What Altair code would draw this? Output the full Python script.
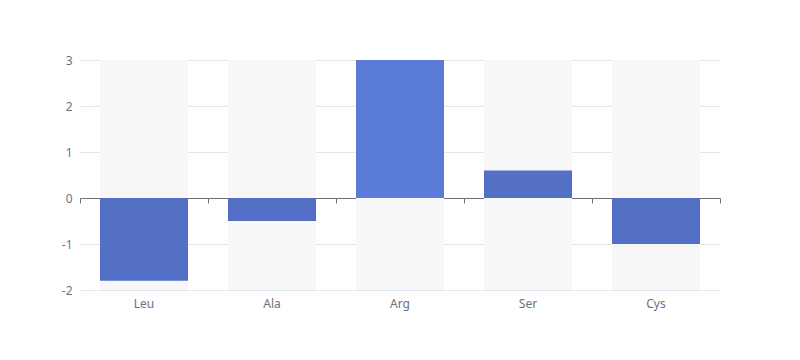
import altair as alt
import pandas as pd

categories = ["Leu", "Ala", "Arg", "Ser", "Cys"]
values = [-1.8, -0.5, 3.0, 0.6, -1.0]
y_ticks = [-2, -1, 0, 1, 2, 3]
highlight = "Arg"

df = pd.DataFrame({"cat": categories, "value": values})

W, H = 640, 230
FONT = "Noto Sans"
LABEL = "#6e7079"

xscale = alt.Scale(domain=categories, paddingInner=0, paddingOuter=0)
yscale = alt.Scale(domain=[min(y_ticks), max(y_ticks)], nice=False, zero=False)

bg = alt.Chart(df).mark_bar(color="#f7f7f7", width={"band": 0.6875}).encode(
    x=alt.X("cat:N", scale=xscale, sort=categories,
            axis=alt.Axis(title=None, orient="bottom", domain=False, ticks=False,
                          labelColor=LABEL, labelFontSize=12, labelPadding=8,
                          labelAngle=0, labelFont=FONT, grid=False)),
    y=alt.value(0),
    y2=alt.value(H),
)

bars = alt.Chart(df).mark_bar(width={"band": 0.6875}).encode(
    x=alt.X("cat:N", scale=xscale, sort=categories,
            axis=alt.Axis(title=None, orient="bottom", offset=-92, labels=False,
                          domainColor=LABEL, domainWidth=1, ticks=True,
                          tickBand="extent", tickSize=5, tickColor=LABEL,
                          grid=False)),
    y=alt.Y("value:Q", scale=yscale,
            axis=alt.Axis(title=None, values=y_ticks, domain=False, ticks=False,
                          grid=True, gridColor="#e0e6f1", labelColor=LABEL,
                          labelFontSize=12, labelPadding=8, labelFont=FONT,
                          labelExpr="'' + datum.value")),
    y2=alt.datum(0),
    color=alt.condition(alt.datum.cat == highlight, alt.value("#5b7bd9"), alt.value("#5470c6")),
)

chart = alt.layer(bg, bars).resolve_axis(x="independent").properties(
    width=W, height=H,
    autosize=alt.AutoSizeParams(type="none"),
    padding={"left": 72, "top": 52, "right": 72, "bottom": 62},
).configure_view(stroke=None)

chart.save("out.html", embed_options={"renderer": "svg", "actions": False})
